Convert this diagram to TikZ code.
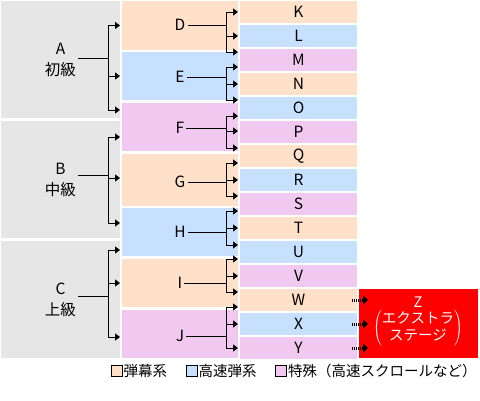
\documentclass[tikz,border=0pt]{standalone}
\usepackage{fontspec}
\setmainfont{Noto Sans CJK JP}
\usetikzlibrary{arrows.meta}
\definecolor{cpeach}{RGB}{255,224,200}
\definecolor{cblue}{RGB}{200,224,255}
\definecolor{cpink}{RGB}{240,200,240}
\definecolor{cgray}{RGB}{230,230,230}
\begin{document}
\begin{tikzpicture}[x=1pt,y=-1pt,
  cell/.style={inner sep=0pt, outer sep=0pt, draw=none},
  lcell/.style={cell, fill=cgray, minimum width=119pt, minimum height=117pt},
  mcell/.style={cell, minimum width=116pt},
  rcell/.style={cell, minimum width=117pt, minimum height=22pt, font=\fontsize{15.5}{20}\selectfont},
  lab/.style={font=\fontsize{15.5}{21}\selectfont, align=center, inner sep=2pt},
  ln/.style={line width=1pt},
  arr/.style={line width=1pt, -{Triangle[length=5pt,width=7pt]}},
  dotarr/.style={line width=3pt, dash pattern=on 1pt off 1pt, -{Triangle[length=5pt,width=9pt,line width=0pt]}},
  legbox/.style={draw=black, line width=1pt, minimum size=11pt, inner sep=0pt},
  legtext/.style={font=\fontsize{14.5}{17}\selectfont, inner sep=1pt, anchor=west}
]
\useasboundingbox (0,0) rectangle (480,400);

% left column
\node[lcell] (A) at (60.5,59.5) {};
\node[lcell] (B) at (60.5,179.5) {};
\node[lcell] (C) at (60.5,299.5) {};
% middle column
\node[mcell, fill=cpeach, minimum height=49pt] (D) at (180,25.5) {};
\node[mcell, fill=cblue,  minimum height=48pt] (E) at (180,76) {};
\node[mcell, fill=cpink,  minimum height=48pt] (F) at (180,127) {};
\node[mcell, fill=cpeach, minimum height=52pt] (G) at (180,180) {};
\node[mcell, fill=cblue,  minimum height=48pt] (H) at (180,232) {};
\node[mcell, fill=cpeach, minimum height=48pt] (I) at (180,283) {};
\node[mcell, fill=cpink,  minimum height=48pt] (J) at (180,334) {};
% right column
\foreach \n/\c [count=\i from 0] in {K/cpeach,L/cblue,M/cpink,N/cpeach,O/cblue,P/cpink,Q/cpeach,R/cblue,S/cpink,T/cpeach,U/cblue,V/cpink,W/cpeach,X/cblue,Y/cpink}
  \node[rcell, fill=\c] (\n) at (298.5,{12+24*\i}) {\n};
% Z box
\node[cell, fill=red, minimum width=119pt, minimum height=69pt] (Z) at (418.5,323.5) {};
\node[text=white, font=\fontsize{14.5}{17.5}\selectfont, inner sep=0pt] (Zt) at (418,302) {Z};
\node[text=white, font=\fontsize{14.5}{17.5}\selectfont, inner sep=0pt] (Zp) at (418,328.5)
  {$\left(\begin{tabular}{@{}c@{}}エクストラ\\ステージ\end{tabular}\right)$};

% labels
\node[lab] (Al) at (60.5,59.5) {A\\初級};
\node[lab] (Bl) at (60.5,179.5) {B\\中級};
\node[lab] (Cl) at (60.5,299.5) {C\\上級};
\node[lab] (Dl) at (180,25) {D};
\node[lab] (El) at (180,77) {E};
\node[lab] (Fl) at (180,128) {F};
\node[lab] (Gl) at (180,182) {G};
\node[lab] (Hl) at (180,232) {H};
\node[lab] (Il) at (180,283) {I};
\node[lab] (Jl) at (180,336) {J};

% branch points
\coordinate (bA) at (108,58);
\coordinate (bB) at (108,175);
\coordinate (bC) at (108,296);
\coordinate (bD) at (226,25);
\coordinate (bE) at (226,77);
\coordinate (bF) at (226,128);
\coordinate (bG) at (226,182);
\coordinate (bH) at (226,232);
\coordinate (bI) at (226,283);
\coordinate (bJ) at (226,336);

% left -> middle
\draw[ln] (Al.east |- bA) -- (bA);
\draw[arr] (bA) |- (A.east |- D);
\draw[arr] (bA) |- (A.east |- E);
\draw[arr] (bA) |- (A.east |- 0,110);
\draw[ln] (Bl.east |- bB) -- (bB);
\draw[arr] (bB) |- (B.east |- 0,137);
\draw[arr] (bB) |- (B.east |- 0,178);
\draw[arr] (bB) |- (B.east |- 0,223);
\draw[ln] (Cl.east |- bC) -- (bC);
\draw[arr] (bC) |- (C.east |- 0,250);
\draw[arr] (bC) |- (C.east |- I);
\draw[arr] (bC) |- (C.east |- 0,337);

% middle -> right
\draw[ln] (Dl.east) -- (bD);
\draw[arr] (bD) |- (D.east |- K);
\draw[arr] (bD) |- (D.east |- L);
\draw[arr] (bD) |- (D.east |- 0,52);
\draw[ln] (El.east) -- (bE);
\draw[arr] (bE) |- (E.east |- 0,67);
\draw[arr] (bE) |- (E.east |- N);
\draw[arr] (bE) |- (E.east |- 0,100);
\draw[ln] (Fl.east) -- (bF);
\draw[arr] (bF) |- (F.east |- 0,116);
\draw[arr] (bF) |- (F.east |- 0,131);
\draw[arr] (bF) |- (F.east |- 0,148);
\draw[ln] (Gl.east) -- (bG);
\draw[arr] (bG) |- (G.east |- 0,163);
\draw[arr] (bG) |- (G.east |- R);
\draw[arr] (bG) |- (G.east |- 0,196);
\draw[ln] (Hl.east) -- (bH);
\draw[arr] (bH) |- (H.east |- 0,211);
\draw[arr] (bH) |- (H.east |- T);
\draw[arr] (bH) |- (H.east |- 0,245);
\draw[ln] (Il.east) -- (bI);
\draw[arr] (bI) |- (I.east |- 0,259);
\draw[arr] (bI) |- (I.east |- V);
\draw[arr] (bI) |- (I.east |- 0,292);
\draw[ln] (Jl.east) -- (bJ);
\draw[arr] (bJ) |- (J.east |- 0,307);
\draw[arr] (bJ) |- (J.east |- X);
\draw[arr] (bJ) |- (J.east |- Y);

% right -> Z (dotted)
\foreach \s in {W,X,Y}
  \draw[dotarr] ([xshift=-5pt]\s.east) -- ([xshift=9pt]Z.west |- \s);

% legend
\node[legbox, fill=cpeach] (lb1) at (116.5,371) {};
\node[legtext] (lt1) at (lb1.east) {弾幕系};
\node[legbox, fill=cblue] (lb2) at (191.5,371) {};
\node[legtext] (lt2) at (lb2.east) {高速弾系};
\node[legbox, fill=cpink] (lb3) at (281,371) {};
\node[legtext] (lt3) at (lb3.east) {特殊（高速スクロールなど）};
\end{tikzpicture}
\end{document}
